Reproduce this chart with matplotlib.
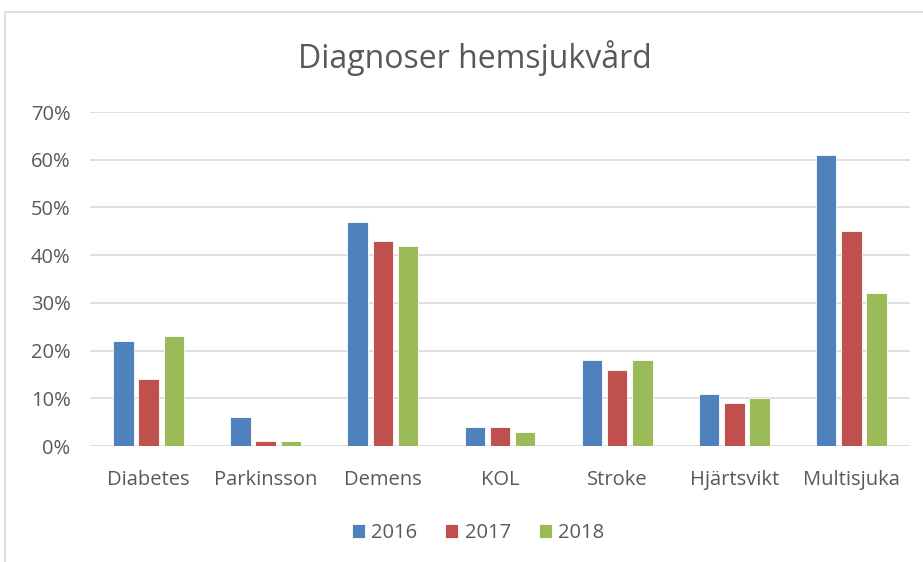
import matplotlib
matplotlib.use("Agg")
import matplotlib.pyplot as plt
import numpy as np
from matplotlib.patches import Rectangle

categories = ["Diabetes", "Parkinsson", "Demens", "KOL", "Stroke", "Hjärtsvikt", "Multisjuka"]
years = ["2016", "2017", "2018"]
v2016 = [22, 6, 47, 4, 18, 11, 61]
v2017 = [14, 1, 43, 4, 16, 9, 45]
v2018 = [23, 1, 42, 3, 18, 10, 32]
yticks = [0, 10, 20, 30, 40, 50, 60, 70]
colors = ["#4F81BD", "#C0504D", "#9BBB59"]

plt.rcParams['font.family'] = ['Open Sans', 'DejaVu Sans']
txt = "#595959"

fig = plt.figure(figsize=(9.23, 5.62), dpi=100)
fig.patches.append(Rectangle((5/923, -0.05), 1.2, 1 - 12/562 + 0.05, transform=fig.transFigure,
                             fill=False, edgecolor="#D9D9D9", linewidth=1.2))
ax = fig.add_axes([90/923, 1 - 446/562, 820/923, (446 - 112)/562])

x = np.arange(len(categories))
w = 0.175
step = 0.215
for i, (vals, yr) in enumerate(zip([v2016, v2017, v2018], years)):
    ax.bar(x + (i - 1) * step, vals, width=w, color=colors[i], label=yr,
           edgecolor="white", linewidth=0.6, zorder=3)

ax.set_xlim(-0.5, len(categories) - 0.5)
ax.set_ylim(0, 70)
ax.set_yticks(yticks)
ax.set_yticklabels([f"{t}%" for t in yticks], color=txt, fontsize=14.5)
ax.set_xticks(x)
ax.set_xticklabels(categories, color=txt, fontsize=14.5)
ax.tick_params(axis='both', length=0)
ax.tick_params(axis='y', pad=14)
ax.tick_params(axis='x', pad=17)
ax.grid(axis='y', color="#D9D9D9", linewidth=1.2, zorder=0)
for s in ax.spines.values():
    s.set_visible(False)

fig.text(475/923, 1 - 58/562, "Diagnoser hemsjukvård", ha='center', va='center',
         fontsize=23, color=txt)
leg = fig.legend(loc='center', bbox_to_anchor=(478/923, 1 - 533/562), ncol=3, frameon=False,
                 fontsize=14.5, handlelength=0.65, handleheight=0.65, handletextpad=0.3,
                 columnspacing=1.4)
for t in leg.get_texts():
    t.set_color(txt)

fig.savefig("out.png", dpi=100)
